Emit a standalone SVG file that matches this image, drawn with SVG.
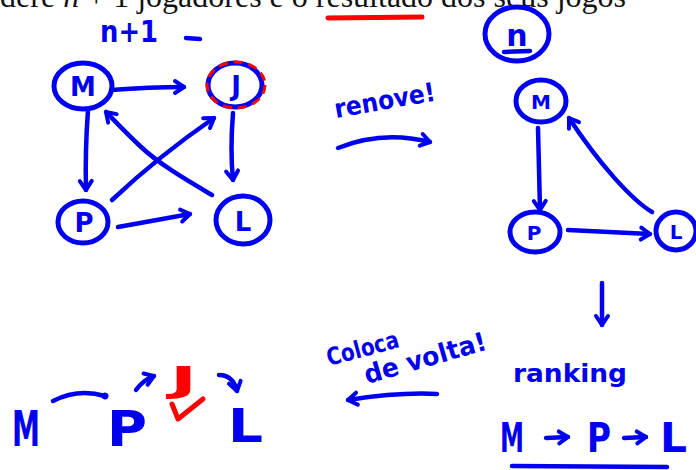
<svg xmlns="http://www.w3.org/2000/svg" width="696" height="470" viewBox="0 0 696 470">
<defs>
<style>
.ink{fill:none;stroke:#0000f0;stroke-width:4.5;stroke-linecap:round;stroke-linejoin:round}
.nd{fill:none;stroke:#0000f0;stroke-width:5}
.hw{font-family:"DejaVu Sans","Liberation Sans",sans-serif;font-weight:bold;fill:#0000f0}
.red{fill:none;stroke:#ff0000;stroke-width:5;stroke-linecap:round;stroke-linejoin:round}
.ser{font-family:"Liberation Serif","DejaVu Serif",serif;fill:#111}
</style>
<marker id="ah" viewBox="-14 -9 18 18" markerWidth="18" markerHeight="18" refX="0" refY="0" orient="auto" markerUnits="userSpaceOnUse" overflow="visible">
<path d="M-9,-6 L0,0 L-9,6" fill="none" stroke="#0000f0" stroke-width="4" stroke-linecap="round" stroke-linejoin="round"/>
</marker>
<marker id="dot" viewBox="-5 -5 10 10" markerWidth="10" markerHeight="10" refX="0" refY="0" orient="auto" markerUnits="userSpaceOnUse">
<circle cx="0" cy="0" r="3.5" fill="#0000f0"/>
</marker>
</defs>
<rect width="696" height="470" fill="#fff"/>

<!-- header -->
<text class="ser" x="626" y="7" font-size="32" text-anchor="end">Considere <tspan font-style="italic">n</tspan> + 1 jogadores e o resultado dos seus jogos</text>
<path class="red" d="M328,18 L422,17"/>

<!-- labels -->
<text class="hw" x="100" y="42" font-size="30" textLength="58" lengthAdjust="spacingAndGlyphs">n+1</text>
<path class="ink" d="M186,38 L200,39" stroke-width="5"/>

<g id="n-circle">
<ellipse class="nd" cx="517" cy="34" rx="32" ry="27"/>
<text class="hw" x="517" y="46" font-size="30" text-anchor="middle">n</text>
<path class="ink" d="M504,52 L530,51" stroke-width="7"/>
</g>

<text class="hw" transform="translate(336,118) rotate(-10)" font-size="26" textLength="102" lengthAdjust="spacingAndGlyphs">renove!</text>
<text class="hw" transform="translate(329,366) rotate(-15)" font-size="24" textLength="74" lengthAdjust="spacingAndGlyphs">Coloca</text>
<text class="hw" transform="translate(367,384) rotate(-16)" font-size="26" textLength="126" lengthAdjust="spacingAndGlyphs">de volta!</text>
<text class="hw" x="513" y="382" font-size="24" textLength="114" lengthAdjust="spacingAndGlyphs">ranking</text>

<!-- left graph nodes -->
<g id="M1"><ellipse class="nd" cx="83" cy="86" rx="29" ry="23"/><text class="hw" x="83" y="96" font-size="26" text-anchor="middle">M</text></g>
<g id="J1"><ellipse class="nd" cx="235" cy="85" rx="27" ry="22"/><ellipse cx="236" cy="85" rx="29" ry="23" fill="none" stroke="#ff0000" stroke-width="3" stroke-dasharray="9 6"/><text class="hw" x="236" y="95" font-size="26" text-anchor="middle">J</text></g>
<g id="P1"><ellipse class="nd" cx="83" cy="222" rx="25" ry="21"/><text class="hw" x="84" y="232" font-size="26" text-anchor="middle">P</text></g>
<g id="L1"><ellipse class="nd" cx="243" cy="220" rx="27" ry="24"/><text class="hw" x="243" y="231" font-size="26" text-anchor="middle">L</text></g>

<!-- right graph nodes -->
<g id="M2"><ellipse class="nd" cx="541" cy="101" rx="25" ry="21"/><text class="hw" x="541" y="109" font-size="20" text-anchor="middle">M</text></g>
<g id="P2"><ellipse class="nd" cx="535" cy="232" rx="25" ry="20"/><text class="hw" x="534" y="240" font-size="20" text-anchor="middle">P</text></g>
<g id="L2"><ellipse class="nd" cx="676" cy="231" rx="20" ry="19"/><text class="hw" x="676" y="239" font-size="20" text-anchor="middle">L</text></g>

<!-- bottom sequences -->
<g id="seq-left">
<text class="hw" x="12" y="446" font-size="50" font-weight="normal" textLength="28" lengthAdjust="spacingAndGlyphs">M</text>
<text class="hw" x="107" y="446" font-size="50" font-weight="normal" textLength="40" lengthAdjust="spacingAndGlyphs">P</text>
<text x="170" y="392" font-size="36" font-family="DejaVu Sans,sans-serif" font-weight="bold" fill="#ff0000" textLength="27" lengthAdjust="spacingAndGlyphs">J</text>
<path class="red" d="M172,404 L178,419 L203,399"/>
<text class="hw" x="228" y="442" font-size="46" font-weight="normal" textLength="35" lengthAdjust="spacingAndGlyphs">L</text>
</g>
<g id="seq-right">
<text class="hw" x="500" y="452" font-size="40" font-weight="normal" textLength="24" lengthAdjust="spacingAndGlyphs">M</text>
<text class="hw" x="587" y="452" font-size="40" font-weight="normal" textLength="24" lengthAdjust="spacingAndGlyphs">P</text>
<text class="hw" x="660" y="452" font-size="40" font-weight="normal" textLength="27" lengthAdjust="spacingAndGlyphs">L</text>
</g>

<!-- connectors -->
<g id="connectors">
<path class="ink" d="M111,90 Q150,87 184,87" marker-end="url(#ah)"/>
<path class="ink" d="M88,110 Q85,150 86,190" marker-end="url(#ah)"/>
<path class="ink" d="M233,113 Q230,150 233,180" marker-end="url(#ah)"/>
<path class="ink" d="M112,200 Q160,155 214,118" marker-end="url(#ah)"/>
<path class="ink" d="M212,195 C190,182 160,165 140,146 C125,132 112,118 106,112" marker-end="url(#ah)"/>
<path class="ink" d="M118,227 L190,214" marker-end="url(#ah)"/>

<path class="ink" d="M538,128 L540,210" marker-end="url(#ah)"/>
<path class="ink" d="M568,230 L650,234" marker-end="url(#ah)"/>
<path class="ink" d="M652,212 C632,200 600,165 569,118" marker-end="url(#ah)"/>

<path class="ink" d="M338,148 Q382,130 430,142" marker-end="url(#ah)"/>
<path class="ink" d="M602,283 L602,325" marker-end="url(#ah)"/>
<path class="ink" d="M437,394 Q400,392 348,400" marker-end="url(#ah)"/>

<path class="ink" d="M53,401 Q78,388 105,396" marker-end="url(#dot)"/>
<path class="ink" d="M136,390 Q143,380 154,376" marker-end="url(#ah)"/>
<path class="ink" d="M219,375 Q233,375 237,391" marker-end="url(#ah)"/>
<path class="ink" d="M546,438 L568,437" marker-end="url(#ah)"/>
<path class="ink" d="M624,438 L646,437" marker-end="url(#ah)"/>
<path class="ink" d="M512,466 L667,467"/>
</g>
</svg>
